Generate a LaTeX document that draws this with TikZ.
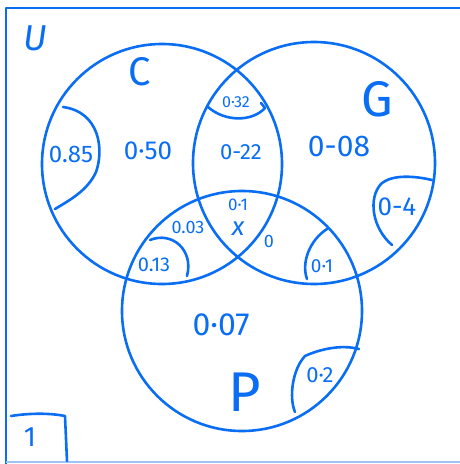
\documentclass[tikz,border=0pt]{standalone}
\usepackage{fontspec}
\setmainfont{Fira Sans}
\definecolor{ink}{RGB}{10,110,245}
\definecolor{faint}{RGB}{160,195,245}
\tikzset{
  pen/.style={draw=ink, line width=2.6pt, line cap=round, line join=round},
  setcircle/.style={circle, pen, inner sep=0pt, minimum size=#1},
  val/.style={text=ink, inner sep=0pt, font=\fontsize{#1}{#1}\selectfont},
  setname/.style={text=ink, inner sep=0pt, font=\fontsize{#1}{#1}\selectfont},
}
\begin{document}
\begin{tikzpicture}[x=1pt,y=-1pt]
\useasboundingbox (0,0) rectangle (460,464);
% frame
\coordinate (tl) at (6,8);
\coordinate (tr) at (460,8);
\coordinate (bl) at (6,464);
\coordinate (bl2) at (6,462);
\coordinate (br2) at (460,462);
\draw[pen, line cap=butt] (tr) -- (tl) -- (bl);
\draw[faint, line width=1.2pt] (bl2) -- (br2);
% circles
\node[setcircle=240pt] (C) at (162,164) {};
\node[setcircle=242pt] (G) at (314,163) {};
\node[setcircle=240pt] (P) at (242,311) {};
% set names
\node[setname=36, font=\fontsize{36}{36}\selectfont\itshape] (u) at (35,38) {U};
\node[setname=40] (cn) at (140,72) {C};
\node[setname=50] (gn) at (377,99) {G};
\node[setname=56] (pn) at (245,392) {P};
% enclosing strokes
\coordinate (a1) at (63,107); \coordinate (a2) at (55,209);
\draw[pen] (a1) .. controls (100,112) and (104,150) .. (96,172) .. controls (88,190) and (70,200) .. (a2);
\coordinate (b1) at (208,107); \coordinate (b2) at (265,108);
\draw[pen] (b1) .. controls (225,122) and (252,122) .. (b2) -- ++(-4,-5);
\coordinate (c1) at (432,180); \coordinate (c2) at (392,245);
\draw[pen] (c1) .. controls (415,176) and (392,174) .. (381,184) .. controls (368,198) and (372,228) .. (c2);
\coordinate (d1) at (150,240); \coordinate (d2) at (187,276);
\draw[pen] (d1) .. controls (172,231) and (194,250) .. (d2);
\coordinate (e1) at (307,279); \coordinate (e2) at (327,229);
\draw[pen] (e1) .. controls (301,262) and (310,240) .. (e2);
\coordinate (f1) at (359,349); \coordinate (f2) at (295,412);
\draw[pen] (f1) .. controls (340,344) and (318,350) .. (305,356) .. controls (292,370) and (289,398) .. (f2);
% box 1
\coordinate (g1) at (11,416); \coordinate (g2) at (65,416); \coordinate (g3) at (67,461);
\draw[pen] (g1) .. controls (30,413) and (50,413) .. (g2) -- (g3);
\node[val=28] (one) at (30,437) {1};
% values
\node[val=24] (v085) at (71,154) {0.85};
\node[val=26] (v050) at (148,151) {0·50};
\node[val=16] (v032) at (236,102) {0·32};
\node[val=22] (v022) at (241,152) {0-22};
\node[val=30] (v008) at (339,146) {0-08};
\node[val=26] (v04) at (397,207) {0-4};
\node[val=17] (v01a) at (238,205) {0·1};
\node[val=26, font=\fontsize{26}{26}\selectfont\itshape] (vx) at (238,229) {x};
\node[val=18] (v003) at (188,227) {0.03};
\node[val=18] (v0) at (269,241) {0};
\node[val=20] (v013) at (154,265) {0.13};
\node[val=19] (v01b) at (322,266) {0·1};
\node[val=32] (v007) at (221,325) {0·07};
\node[val=22] (v02) at (320,375) {0·2};
\end{tikzpicture}
\end{document}
